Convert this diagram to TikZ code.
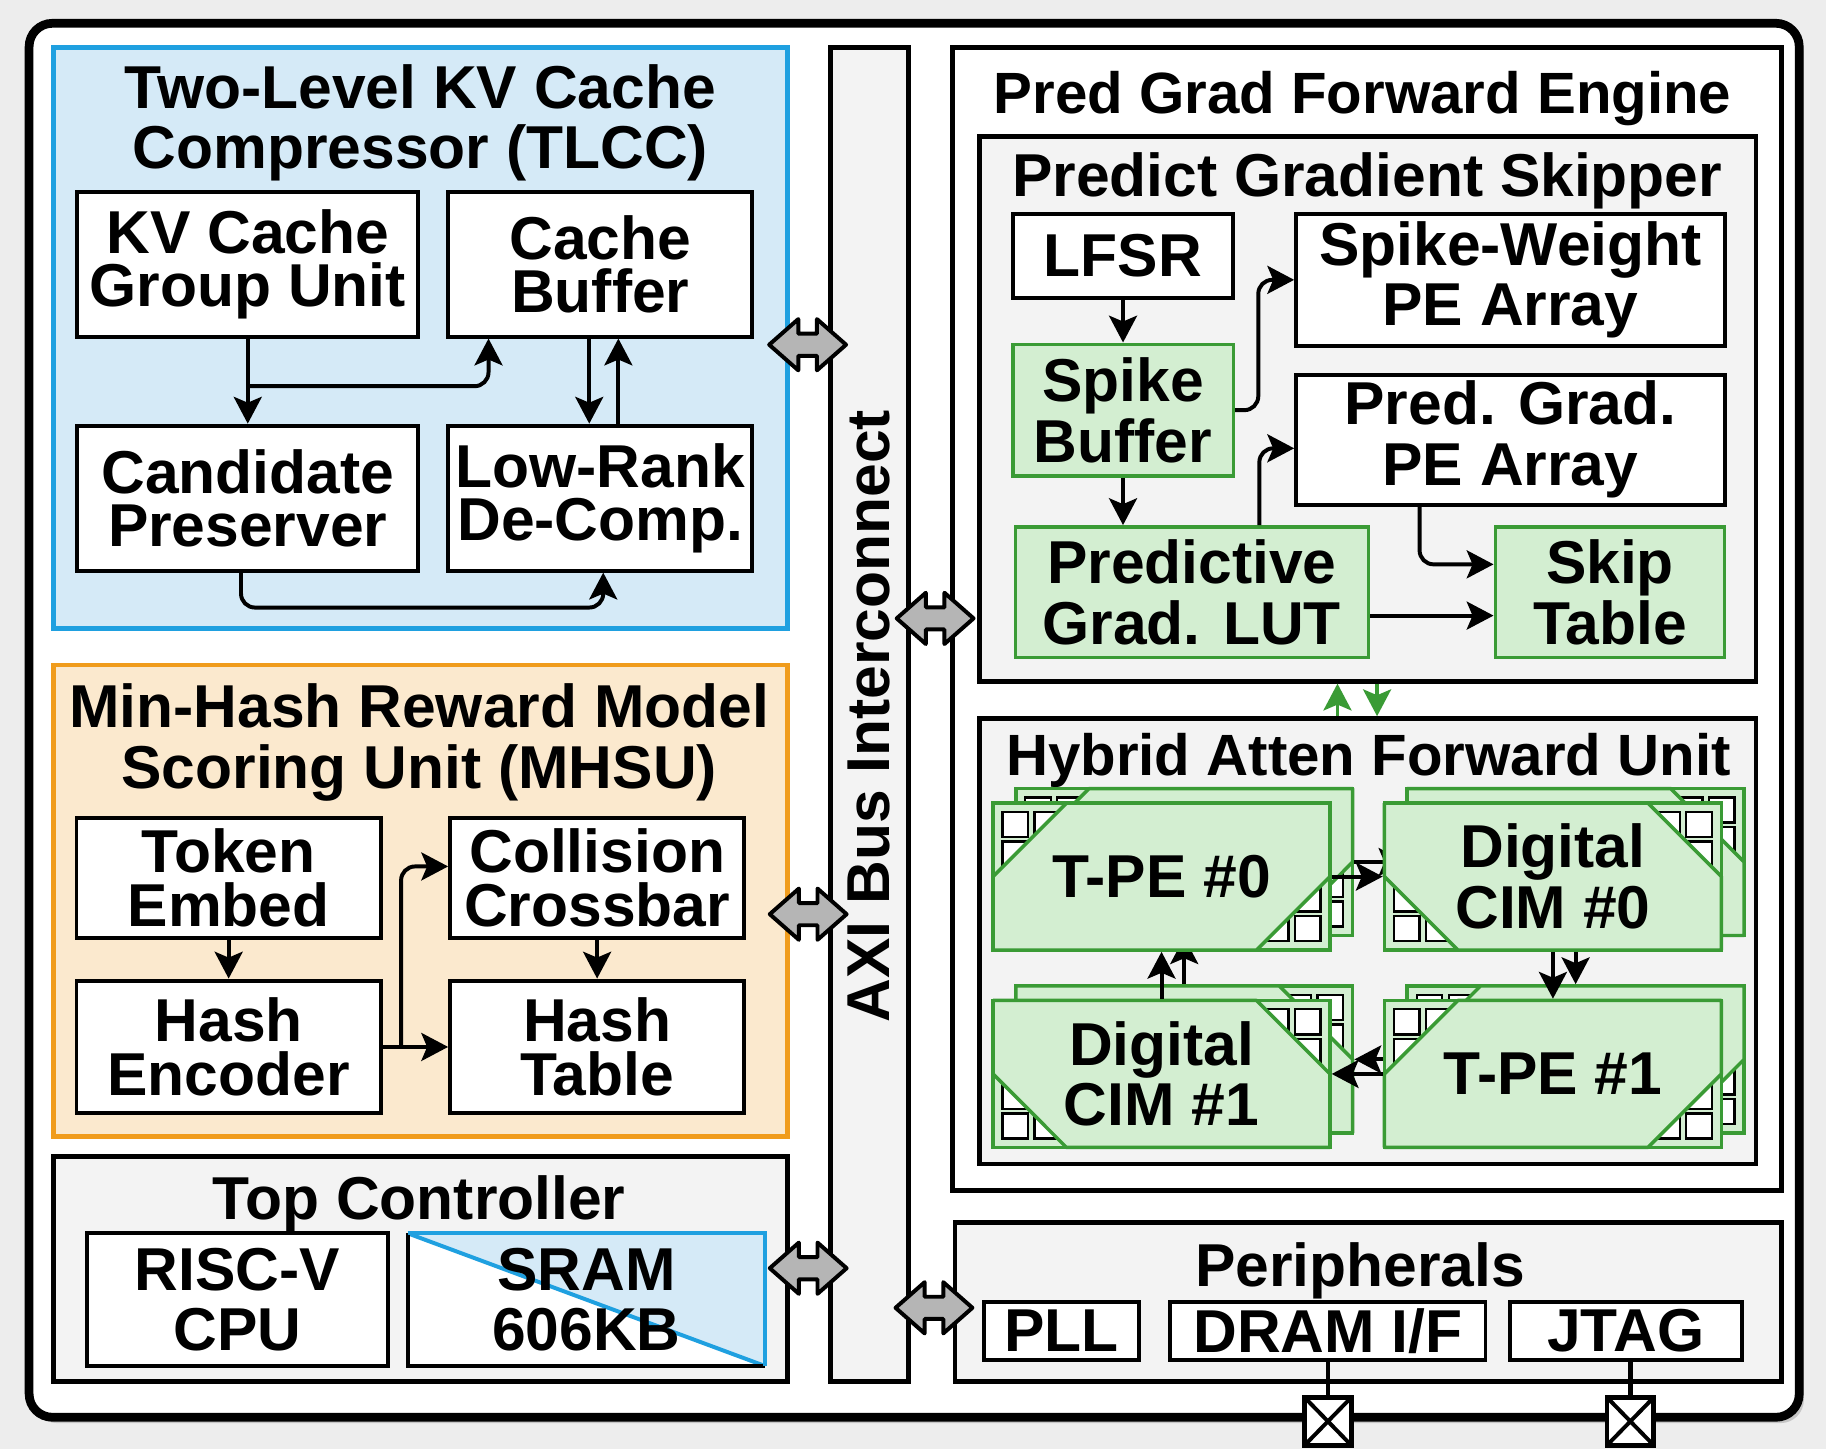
\documentclass[tikz,border=0pt]{standalone}
\usepackage{fontspec}
\setmainfont{Liberation Sans}
\usetikzlibrary{arrows.meta,calc,shadows}

\definecolor{tlccfill}{HTML}{D5EAF7}
\definecolor{tlccline}{HTML}{1FA0E0}
\definecolor{mhsufill}{HTML}{FBE9CE}
\definecolor{mhsuline}{HTML}{F09C1C}
\definecolor{pefill}{HTML}{D3EED1}
\definecolor{peline}{HTML}{3A9B35}
\definecolor{panel}{HTML}{F3F3F3}
\definecolor{busgray}{HTML}{B5B5B5}

\begin{document}
\begin{tikzpicture}[
x=0.5pt,
y=-0.5pt,
box/.style={
  draw,
  fill=white,
  line width=1.7pt,
  inner sep=0pt,
  align=center,
  font=\bfseries\fontsize{26}{26}\selectfont
  },
tightbox/.style={
  box,
  font=\bfseries\fontsize{26}{23}\selectfont
  },
greenbox/.style={
  box,
  draw=peline,
  fill=pefill,
  line width=1.5pt
  },
panelbox/.style={
  draw,
  fill=panel,
  line width=2pt,
  inner sep=0pt
  },
title/.style={
  anchor=north,
  inner sep=0pt,
  align=center,
  font=\bfseries\fontsize{26}{26}\selectfont
  },
smalltitle/.style={
  title,
  font=\bfseries\fontsize{25}{25}\selectfont
  },
hexnode/.style={
  inner sep=0pt,
  outer sep=0.75pt,
  minimum width=144.65pt,
  minimum height=63.1pt,
  align=center,
  font=\bfseries\fontsize{26}{26}\selectfont
  },
conn/.style={
  ->,
  line width=1.7pt,
  rounded corners=6pt
  },
greenconn/.style={
  ->,
  draw=peline,
  line width=1.7pt
  },
cell/.style={
  draw,
  fill=white,
  line width=1pt
  },
pinbox/.style={
  draw,
  fill=white,
  line width=2pt,
  inner sep=0pt,
  outer sep=0pt,
  minimum width=20pt,
  minimum height=20.5pt
  },
hexblock/.pic={
  \draw[line width=1.5pt, draw=peline, fill=pefill] (-144.65,-63.1) rectangle (144.65,63.1);
  \foreach \sx in {-136.5,-109}
  {\foreach \sy in {-55.5,-30}
    {\draw[cell] (\sx,\sy) rectangle ++(22,21.5);
     \draw[cell, rotate=180] (\sx,\sy) rectangle ++(22,21.5);}
  }
  \draw[line width=1.5pt, draw=peline, fill=pefill, line join=round]
    (-144.65,0) -- (-81.65,-63.1) -- (144.65,-63.1) -- (144.65,0)
    -- (81.65,63.1) -- (-144.65,63.1) -- cycle;
  },
biarrow/.pic={
  \draw[line width=1.7pt, fill=busgray, line join=round]
    (-33,0) -- (-8,-22) -- (-8,-9.5) -- (8,-9.5) -- (8,-22) -- (33,0)
    -- (8,22) -- (8,9.5) -- (-8,9.5) -- (-8,22) -- cycle;
  },
>={Stealth[length=11.5pt,width=12pt,inset=2.5pt]}
]
\useasboundingbox (0,0) rectangle (1568,1244);
\fill[black!7] (0,0) rectangle (1568,1244);

\node[draw, fill=white, line width=3.75pt, rounded corners=10pt,
  minimum width=760pt, minimum height=598.5pt,
  drop shadow={shadow xshift=2pt, shadow yshift=-2.5pt, opacity=0.35}] (chip) at (785,618.5) {};

% panels
\node[panelbox, draw=tlccline, fill=tlccfill, minimum width=315pt, minimum height=249.5pt] (tlcc) at (361,290) {};
\node[panelbox, draw=mhsuline, fill=mhsufill, minimum width=315pt, minimum height=202.5pt] (mhsu) at (361,773.5) {};
\node[panelbox, minimum width=315pt, minimum height=96.75pt] (topc) at (361,1089.75) {};
\node[panelbox, minimum width=33.5pt, minimum height=573pt] (axi) at (746.5,613.5) {};
\node[panelbox, fill=white, minimum width=356pt, minimum height=490.75pt] (pgfe) at (1174,531.25) {};
\node[panelbox, minimum width=333.5pt, minimum height=234pt] (psk) at (1174.5,351) {};
\node[panelbox, minimum width=333.5pt, minimum height=191.25pt] (haf) at (1174.5,808.25) {};
\node[panelbox, minimum width=355pt, minimum height=68.25pt] (periph) at (1175,1118.25) {};

\node[title] (tlcct) at (361,55) {Two-Level KV Cache\\Compressor (TLCC)};
\node[title] (mhsut) at (360,587) {Min-Hash Reward Model\\Scoring Unit (MHSU)};
\node[title] (topct) at (360,1009) {Top Controller};
\node[smalltitle] (pgfet) at (1170,60.5) {Pred Grad Forward Engine};
\node[title] (pskt) at (1174,131) {Predict Gradient Skipper};
\node[smalltitle] (haft) at (1175,629) {Hybrid Atten Forward Unit};
\node[title] (periphT) at (1168,1066.5) {Peripherals};
\node[title, anchor=center, rotate=90] (axit) at (746.5,615) {AXI Bus Interconnect};

% TLCC
\node[tightbox, minimum width=146.25pt, minimum height=62pt] (kvg) at (212.75,227) {KV Cache\\Group Unit};
\node[tightbox, minimum width=130.5pt, minimum height=62pt] (cbuf) at (515.5,227) {Cache\\Buffer};
\node[tightbox, minimum width=146.25pt, minimum height=62.25pt] (cand) at (212.75,427.75) {Candidate\\Preserver};
\node[tightbox, minimum width=130.5pt, minimum height=62.25pt] (lrd) at (515.5,427.75) {Low-Rank\\De-Comp.};

\coordinate (kvj) at ($(kvg.south)!0.56!(cand.north)$);
\draw[conn] (kvg.south) -- (cand.north);
\draw[conn] (kvj) -| ([xshift=-48pt]cbuf.south);
\draw[conn] ([xshift=-4.75pt]cbuf.south) -- ([xshift=-4.75pt]lrd.north);
\draw[conn] ([xshift=7.75pt]lrd.north) -- ([xshift=7.75pt]cbuf.south);
\draw[conn] ([xshift=-2.9pt]cand.south) -- ++(0,30) -| ([xshift=1.25pt]lrd.south);

% MHSU
\node[tightbox, minimum width=130.65pt, minimum height=51.5pt] (tok) at (196.35,754) {Token\\Embed};
\node[tightbox, minimum width=126.25pt, minimum height=51.5pt] (coll) at (512.75,754) {Collision\\Crossbar};
\node[tightbox, minimum width=130.65pt, minimum height=57pt] (henc) at (196.35,899) {Hash\\Encoder};
\node[tightbox, minimum width=126.25pt, minimum height=57pt] (htab) at (512.75,899) {Hash\\Table};

\coordinate (hej) at ($(henc.east)!0.28!(htab.west)$);
\draw[conn] (tok.south) -- (henc.north);
\draw[conn] (coll.south) -- (htab.north);
\draw[conn] (henc.east) -- (htab.west);
\draw[conn] (hej) |- ([yshift=5pt]coll.west);

% Top Controller
\node[box, minimum width=129pt, minimum height=57pt] (cpu) at (204,1116) {RISC-V\\CPU};
\node[box, draw=none, outer sep=0pt, minimum width=153.5pt, minimum height=57pt,
  path picture={
    \fill[tlccfill] (path picture bounding box.north west) -- (path picture bounding box.north east)
      -- (path picture bounding box.south east) -- cycle;
    \draw[tlccline, line width=1.7pt] (path picture bounding box.north west) -- (path picture bounding box.south east);
  }] (sram) at (503.5,1116) {SRAM\\606KB};
\draw[line width=1.7pt] (sram.north west) -- (sram.south west) -- (sram.south east);
\draw[tlccline, line width=1.7pt] (sram.north west) -- (sram.north east) -- (sram.south east);

% Predict Gradient Skipper
\node[box, minimum width=94.65pt, minimum height=36.2pt] (lfsr) at (964.35,219.8) {LFSR};
\node[box, minimum width=184pt, minimum height=56.7pt] (swpe) at (1297,240.3) {Spike-Weight\\PE Array};
\node[greenbox, minimum width=94.65pt, minimum height=56.6pt] (spb) at (964.35,352.2) {Spike\\Buffer};
\node[box, minimum width=184pt, minimum height=55.85pt] (pgpe) at (1297,377.45) {Pred. Grad.\\PE Array};
\node[greenbox, minimum width=151.6pt, minimum height=56.2pt] (lut) at (1023.4,508.6) {Predictive\\Grad. LUT};
\node[greenbox, minimum width=98.5pt, minimum height=56.2pt] (skip) at (1382.5,508.6) {Skip\\Table};

\draw[conn] (lfsr.south) -- (spb.north);
\draw[conn] (spb.south) -- (spb.south |- lut.north);
\draw[conn] (spb.east) -- ++(20,0) |- (swpe.west);
\draw[conn] ([xshift=29pt]lut.north) |- ([yshift=-3.75pt]pgpe.west);
\draw[conn] ([xshift=-39pt]pgpe.south) |- ([yshift=12pt]skip.west);
\draw[conn] ([yshift=-10pt]lut.east) -- ([yshift=-10pt]skip.west);

% Hybrid Atten Forward Unit
\foreach \nm/\px/\py/\fl in {tpe0/997.4/752.7/1, cim0/1333.5/752.7/-1, cim1/997.4/922.2/-1, tpe1/1333.5/922.2/1}
{
  \pic[xscale=\fl] at (\px+19.5,\py-12.5) {hexblock};
  \node[hexnode] (\nm-b) at (\px+19.5,\py-12.5) {};
}
\draw[conn] (tpe0-b.east) -- (cim0-b.west);
\draw[conn] (cim0-b.south) -- (tpe1-b.north);
\draw[conn] (tpe1-b.west) -- (cim1-b.east);
\draw[conn] (cim1-b.north) -- (tpe0-b.south);
\foreach \nm/\px/\py/\fl/\tx in {tpe0/997.4/752.7/1/{T-PE \#0}, cim0/1333.5/752.7/-1/{Digital\\CIM \#0},
  cim1/997.4/922.2/-1/{Digital\\CIM \#1}, tpe1/1333.5/922.2/1/{T-PE \#1}}
{
  \pic[xscale=\fl] at (\px,\py) {hexblock};
  \node[hexnode] (\nm) at (\px,\py) {\tx};
}
\draw[conn] (tpe0.east) -- (cim0.west);
\draw[conn] (cim0.south) -- (tpe1.north);
\draw[conn] (tpe1.west) -- (cim1.east);
\draw[conn] (cim1.north) -- (tpe0.south);

\draw[greenconn] ([xshift=-13pt]haf.north) -- ([xshift=-13pt]psk.south);
\draw[greenconn] ([xshift=4pt]psk.south) -- ([xshift=4pt]haf.north);

% Peripherals
\node[box, minimum width=66.5pt, minimum height=25pt] (pll) at (911.5,1143) {PLL};
\node[box, minimum width=135.3pt, minimum height=25pt] (dram) at (1140.3,1143) {DRAM I/F};
\node[box, minimum width=99.5pt, minimum height=25pt] (jtag) at (1396,1143) {JTAG};

% bus links
\foreach \bx/\by in {693.5/296, 803/531, 694/785, 694/1089, 802/1123}
  \pic at (\bx,\by) {biarrow};

% pads
\foreach \nm/\px in {pin1/1140.3, pin2/1400}
{
  \node[pinbox] (\nm) at (\px,1220.5) {};
  \draw[line width=1.7pt] (\nm.north west) -- (\nm.south east) (\nm.north east) -- (\nm.south west);
}
\draw[line width=2pt] (dram.south) -- (pin1.north);
\draw[line width=2pt] (pin2 |- jtag.south) -- (pin2.north);

\end{tikzpicture}
\end{document}
